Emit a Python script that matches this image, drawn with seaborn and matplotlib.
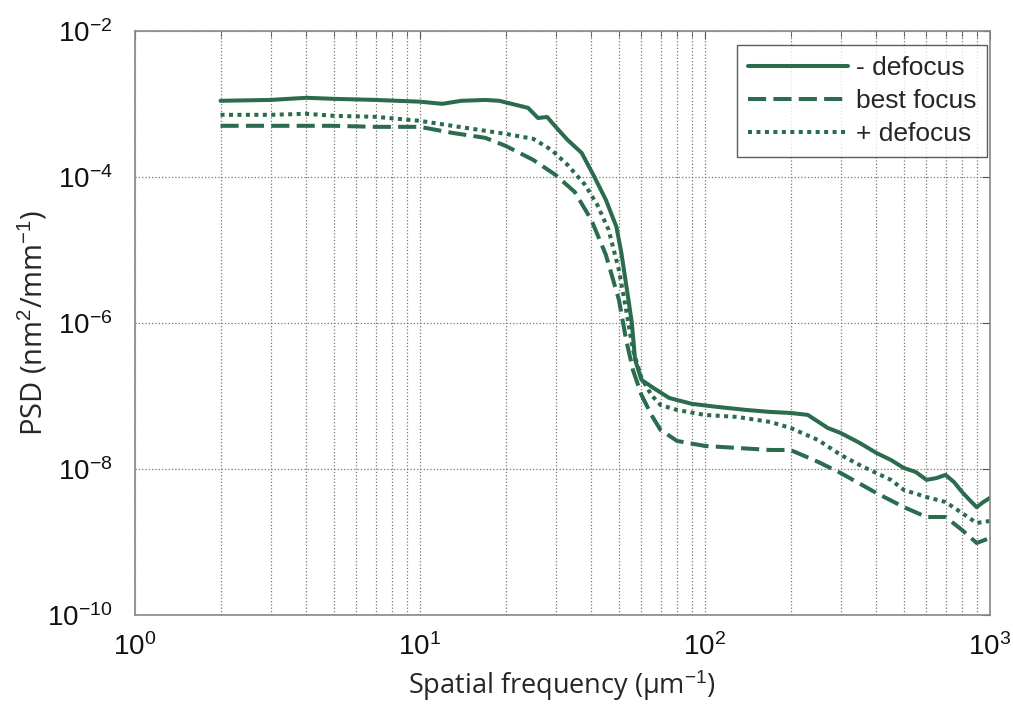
import numpy as np
import pandas as pd
import matplotlib
matplotlib.use("Agg")
import matplotlib.pyplot as plt
from matplotlib.ticker import LogLocator, FixedLocator, NullLocator, FuncFormatter
import seaborn as sns

# ---- data ----
freq_minus = [2, 3, 4, 5, 7, 10, 12, 14, 17, 19, 21, 24, 26, 28, 30, 33, 37, 41, 45, 49,
              51, 54, 55.5, 57, 60, 66, 75, 90, 110, 140, 170, 200, 230, 270, 300, 350,
              400, 450, 500, 550, 600, 650, 700, 750, 800, 850, 900, 950, 1000]
psd_minus = [1.10e-3, 1.13e-3, 1.21e-3, 1.17e-3, 1.13e-3, 1.07e-3, 1.0e-3, 1.10e-3, 1.13e-3,
             1.10e-3, 1.0e-3, 8.8e-4, 6.4e-4, 6.6e-4, 4.84e-4, 3.21e-4, 2.13e-4, 1.0e-4,
             4.84e-5, 2.07e-5, 9.1e-6, 2.07e-6, 1.0e-6, 3.11e-7, 1.66e-7, 1.29e-7, 9.4e-8,
             7.8e-8, 7.1e-8, 6.43e-8, 6.04e-8, 5.85e-8, 5.5e-8, 3.65e-8, 3.11e-8, 2.27e-8,
             1.66e-8, 1.33e-8, 1.03e-8, 9.1e-9, 7.1e-9, 7.5e-9, 8.3e-9, 6.6e-9, 4.84e-9,
             3.76e-9, 3.0e-9, 3.53e-9, 4.0e-9]

freq_best = [2, 3, 5, 7, 10, 13, 17, 20, 25, 30, 35, 40, 45, 50, 53, 56, 60, 65, 70, 80,
             100, 130, 170, 200, 250, 300, 400, 500, 600, 700, 800, 900, 1000]
psd_best = [5.0e-4, 5.0e-4, 5.0e-4, 4.84e-4, 4.84e-4, 4.0e-4, 3.42e-4, 2.66e-4, 1.71e-4,
            1.06e-4, 6.2e-5, 2.58e-5, 8.55e-6, 2.07e-6, 5.85e-7, 2.27e-7, 1.03e-7, 5.5e-8,
            3.42e-8, 2.42e-8, 2.07e-8, 1.94e-8, 1.82e-8, 1.82e-8, 1.25e-8, 8.8e-9, 4.7e-9,
            3.0e-9, 2.2e-9, 2.2e-9, 1.46e-9, 9.7e-10, 1.13e-9]

freq_plus = [2, 3, 4, 5, 7, 10, 13, 17, 20, 25, 29, 33, 38, 42, 46, 50, 53, 56, 60, 65, 70,
             80, 100, 130, 170, 200, 250, 300, 350, 400, 450, 500, 600, 700, 800, 900, 1000]
psd_plus = [7.07e-4, 7.07e-4, 7.3e-4, 6.85e-4, 6.64e-4, 5.85e-4, 5.0e-4, 4.27e-4, 3.88e-4,
            3.32e-4, 2.34e-4, 1.46e-4, 7.8e-5, 4.13e-5, 1.88e-5, 5.3e-6, 1.51e-6, 4.27e-7,
            1.77e-7, 1.03e-7, 7.5e-8, 6.43e-8, 5.5e-8, 5.16e-8, 4.4e-8, 3.65e-8, 2.49e-8,
            1.56e-8, 1.13e-8, 8.8e-9, 7.1e-9, 5.16e-9, 4.13e-9, 3.53e-9, 2.49e-9, 1.82e-9,
            1.94e-9]

labels = ["- defocus", "best focus", "+ defocus"]
y_ticks = [1e-10, 1e-8, 1e-6, 1e-4, 1e-2]
x_ticks = [1e0, 1e1, 1e2, 1e3]

# ---- style ----
sns.set_style("white")
plt.rcParams["font.family"] = ["Liberation Sans", "DejaVu Sans"]
plt.rcParams["mathtext.fontset"] = "custom"
plt.rcParams["mathtext.rm"] = "Liberation Sans"
plt.rcParams["mathtext.it"] = "Liberation Sans"

color = "#2b6b4e"
fig = plt.figure(figsize=(10.13, 7.16), dpi=100)
ax = fig.add_axes([0.133, 0.141, 0.844, 0.816])

series = [(freq_minus, psd_minus, labels[0], "-"),
          (freq_best, psd_best, labels[1], (0, (4.5, 1.8))),
          (freq_plus, psd_plus, labels[2], (0, (1, 1.1)))]
for fx, py, lab, ls in series:
    df = pd.DataFrame({"f": fx, "psd": py})
    sns.lineplot(data=df, x="f", y="psd", ax=ax, color=color, linewidth=2.9,
                 linestyle=ls, label=lab)

ax.set_xscale("log")
ax.set_yscale("log")
ax.set_xlim(1, 1000)
ax.set_ylim(1e-10, 1e-2)

def sci(v, pos):
    e = int(round(np.log10(v)))
    return r"$10^{%d}$" % e

ax.xaxis.set_major_locator(FixedLocator(x_ticks))
ax.xaxis.set_minor_locator(LogLocator(base=10, subs=np.arange(2, 10), numticks=20))
ax.xaxis.set_major_formatter(FuncFormatter(sci))
ax.yaxis.set_major_locator(FixedLocator(y_ticks))
ax.yaxis.set_minor_locator(NullLocator())
ax.yaxis.set_major_formatter(FuncFormatter(sci))

ax.tick_params(axis="both", which="both", direction="in", top=True, right=True,
               colors="#555555", labelcolor="#111111", labelsize=20)
ax.tick_params(which="major", length=6)
ax.tick_params(which="minor", length=4)
ax.tick_params(axis="x", pad=13)
ax.tick_params(axis="y", pad=16)
ax.grid(True, which="major", linestyle=":", color="#777777", linewidth=0.9)
ax.grid(True, which="minor", axis="x", linestyle=":", color="#777777", linewidth=0.9)
for s in ax.spines.values():
    s.set_color("#888888")
    s.set_linewidth(1.2)

ax.set_xlabel("Spatial frequency (\u03bcm$^{-1}$)", fontsize=19.5,
              family=["Open Sans", "DejaVu Sans"], labelpad=5)
ax.set_ylabel("PSD (nm$^{2}$/mm$^{-1}$)", fontsize=21,
              family=["Open Sans", "DejaVu Sans"], labelpad=-2)

leg = ax.legend(loc="upper right", bbox_to_anchor=(0.997, 0.975), fontsize=19,
                frameon=True, fancybox=False, edgecolor="#333333", handlelength=3.8,
                handletextpad=0.3, borderaxespad=0.0, labelspacing=0.35, borderpad=0.4)
leg.get_frame().set_linewidth(1.0)

fig.savefig("out.png", dpi=100)
